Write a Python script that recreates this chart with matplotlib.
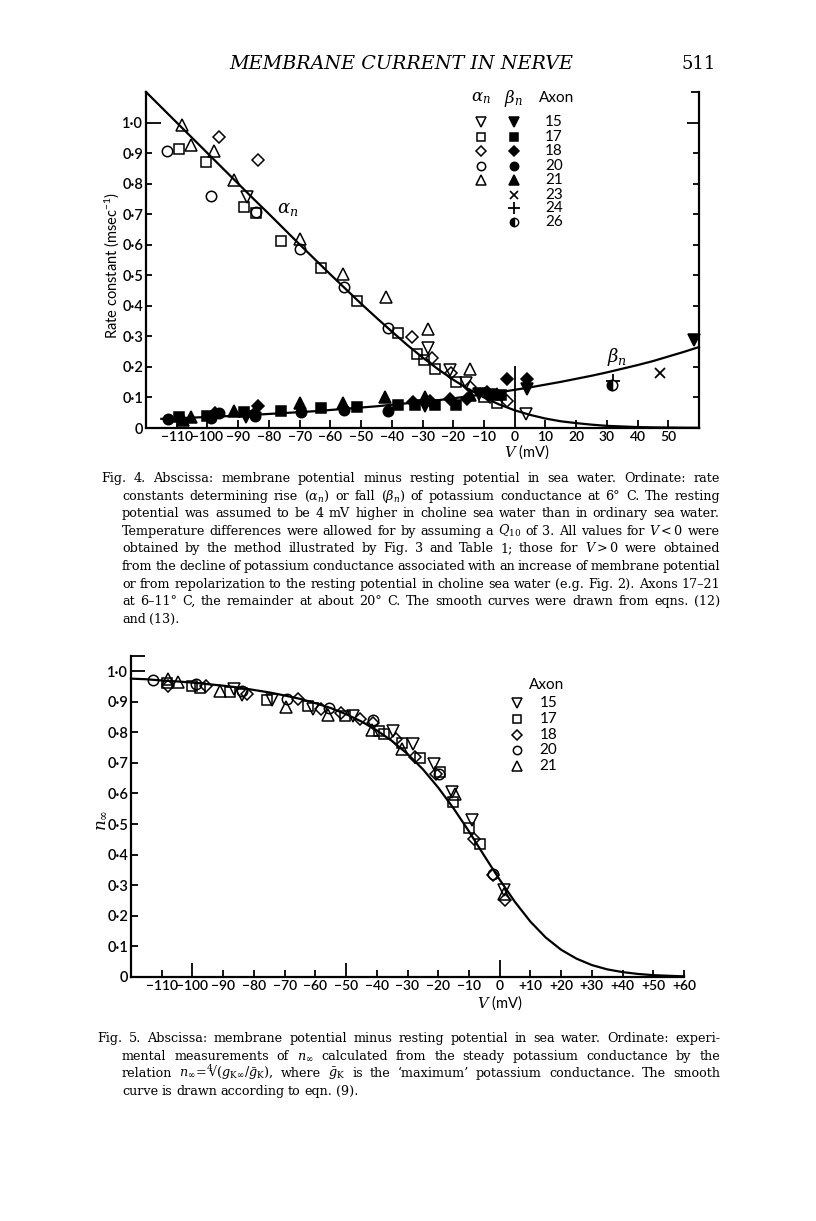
import matplotlib
matplotlib.use('Agg')
import matplotlib.pyplot as plt

plt.rcParams['font.family'] = ['Lato', 'DejaVu Sans']
plt.rcParams['mathtext.fontset'] = 'dejavuserif'

# smooth curves, every 5 mV from -120 to +60
v_curve = [-120, -115, -110, -105, -100, -95, -90, -85, -80, -75, -70, -65, -60,
           -55, -50, -45, -40, -35, -30, -25, -20, -15, -10, -5, 0, 5, 10, 15,
           20, 25, 30, 35, 40, 45, 50, 55, 60]
alpha_curve = [1.100, 1.050, 1.000, 0.950, 0.900, 0.850, 0.800, 0.750, 0.701, 0.651,
               0.601, 0.552, 0.503, 0.455, 0.407, 0.361, 0.316, 0.272, 0.231, 0.193,
               0.158, 0.127, 0.100, 0.077, 0.058, 0.043, 0.031, 0.022, 0.016, 0.011,
               0.007, 0.005, 0.003, 0.002, 0.0015, 0.001, 0.0006]
beta_curve = [0.028, 0.030, 0.032, 0.034, 0.036, 0.038, 0.041, 0.043, 0.046, 0.049,
              0.052, 0.055, 0.059, 0.063, 0.067, 0.071, 0.076, 0.081, 0.086, 0.091,
              0.097, 0.104, 0.110, 0.117, 0.125, 0.133, 0.142, 0.151, 0.161, 0.171,
              0.182, 0.194, 0.206, 0.219, 0.234, 0.249, 0.265]
ninf_curve = [0.975, 0.973, 0.969, 0.966, 0.962, 0.957, 0.952, 0.946, 0.938, 0.930,
              0.920, 0.909, 0.895, 0.879, 0.859, 0.835, 0.806, 0.771, 0.729, 0.679,
              0.619, 0.551, 0.476, 0.396, 0.318, 0.245, 0.181, 0.129, 0.089, 0.060,
              0.039, 0.025, 0.016, 0.010, 0.006, 0.004, 0.002]

# Fig. 4 alpha_n points (open symbols), by axon
alpha_15 = [(-87.1, 0.756), (-28.2, 0.261), (-20.9, 0.190), (-16.0, 0.147), (3.6, 0.045)]
alpha_17 = [(-109.4, 0.915), (-100.4, 0.872), (-88.2, 0.724), (-84.3, 0.704), (-76.2, 0.613),
            (-63.2, 0.524), (-51.4, 0.417), (-38.1, 0.310), (-31.8, 0.243), (-29.4, 0.223),
            (-25.8, 0.192), (-19.0, 0.152), (-10.0, 0.103), (-5.9, 0.083)]
alpha_18 = [(-96.1, 0.953), (-83.6, 0.879), (-33.4, 0.299), (-26.9, 0.228), (-20.6, 0.179),
            (-14.6, 0.133), (-8.1, 0.100), (-2.4, 0.090)]
alpha_20 = [(-113.3, 0.906), (-98.7, 0.758), (-84.3, 0.707), (-69.9, 0.586), (-55.5, 0.463),
            (-41.3, 0.329)]
alpha_21 = [(-108.4, 0.991), (-105.3, 0.925), (-98.0, 0.908), (-91.4, 0.813), (-69.9, 0.619),
            (-55.8, 0.505), (-41.9, 0.428), (-28.2, 0.324), (-14.4, 0.192)]

# Fig. 4 beta_n points (filled symbols), by axon
beta_15 = [(-87.4, 0.037), (-29.1, 0.072), (-11.5, 0.110), (4.1, 0.127), (58.4, 0.288)]
beta_17 = [(-109.4, 0.037), (-100.2, 0.040), (-88.2, 0.054), (-76.2, 0.057), (-63.2, 0.065),
           (-51.2, 0.068), (-38.1, 0.075), (-32.4, 0.075), (-25.8, 0.075), (-19.0, 0.075),
           (-7.5, 0.110), (-4.5, 0.108)]
beta_18 = [(-97.7, 0.048), (-84.6, 0.050), (-83.6, 0.072), (-33.1, 0.086), (-27.6, 0.087),
           (-20.9, 0.094), (-15.5, 0.094), (-8.9, 0.119), (-2.4, 0.160), (4.1, 0.160)]
beta_20 = [(-113.0, 0.028), (-98.8, 0.032), (-96.1, 0.048), (-84.6, 0.039), (-69.7, 0.054),
           (-55.6, 0.059), (-41.1, 0.055)]
beta_21 = [(-108.0, 0.026), (-105.3, 0.037), (-91.2, 0.057), (-69.9, 0.081), (-55.8, 0.083),
           (-42.2, 0.100), (-29.1, 0.100), (-14.4, 0.108), (-5.9, 0.110)]
beta_23 = [(47.2, 0.179)]
beta_24 = [(32.1, 0.155)]
beta_26 = [(31.7, 0.141)]

# Fig. 5 n_inf points, by axon
ninf_15 = [(-86.5, 0.942), (-83.8, 0.921), (-74.0, 0.906), (-60.8, 0.877), (-47.8, 0.852),
           (-34.8, 0.803), (-28.2, 0.763), (-21.5, 0.697), (-15.4, 0.605), (-8.9, 0.512),
           (1.5, 0.285)]
ninf_17 = [(-108.4, 0.961), (-100.1, 0.951), (-97.7, 0.946), (-87.9, 0.931), (-75.7, 0.904),
           (-62.4, 0.885), (-50.5, 0.852), (-39.4, 0.804), (-37.8, 0.795), (-31.8, 0.765),
           (-25.8, 0.716), (-19.4, 0.670), (-15.2, 0.572), (-10.1, 0.488), (-6.5, 0.436)]
ninf_18 = [(-107.8, 0.950), (-95.5, 0.950), (-82.3, 0.924), (-65.7, 0.910), (-58.3, 0.877),
           (-51.6, 0.864), (-45.6, 0.842), (-41.3, 0.831), (-33.6, 0.779), (-27.7, 0.719),
           (-20.8, 0.662), (-8.4, 0.452), (-2.2, 0.334), (1.8, 0.252)]
ninf_20 = [(-112.9, 0.970), (-98.8, 0.957), (-83.8, 0.935), (-69.3, 0.910), (-55.4, 0.880),
           (-41.3, 0.841), (-19.8, 0.665), (-2.2, 0.338)]
ninf_21 = [(-107.8, 0.975), (-104.8, 0.964), (-91.0, 0.935), (-69.7, 0.882), (-55.9, 0.855),
           (-41.5, 0.806), (-31.8, 0.746), (-14.7, 0.599), (1.3, 0.270)]

axons_fig4 = ['15', '17', '18', '20', '21', '23', '24', '26']
axons_fig5 = ['15', '17', '18', '20', '21']

top_xticks = [-110, -100, -90, -80, -70, -60, -50, -40, -30, -20, -10, 0, 10, 20, 30, 40, 50]
top_xlabels = ['\u2212110', '\u2212100', '\u221290', '\u221280', '\u221270', '\u221260',
               '\u221250', '\u221240', '\u221230', '\u221220', '\u221210', '0',
               '10', '20', '30', '40', '50']
bot_xticks = [-110, -100, -90, -80, -70, -60, -50, -40, -30, -20, -10, 0,
              10, 20, 30, 40, 50, 60]
bot_xlabels = ['\u2212110', '\u2212100', '\u221290', '\u221280', '\u221270', '\u221260',
               '\u221250', '\u221240', '\u221230', '\u221220', '\u221210', '0',
               '+10', '+20', '+30', '+40', '+50', '+60']
yticks = [0, 0.1, 0.2, 0.3, 0.4, 0.5, 0.6, 0.7, 0.8, 0.9, 1.0]
ylabels = ['0', '0\u00b71', '0\u00b72', '0\u00b73', '0\u00b74', '0\u00b75',
           '0\u00b76', '0\u00b77', '0\u00b78', '0\u00b79', '1\u00b70']

cap4 = ['Fig. 4. Abscissa: membrane potential minus resting potential in sea water. Ordinate: rate',
        r'constants determining rise ($\alpha_n$) or fall ($\beta_n$) of potassium conductance at 6° C. The resting',
        'potential was assumed to be 4 mV higher in choline sea water than in ordinary sea water.',
        r'Temperature differences were allowed for by assuming a $Q_{10}$ of 3. All values for $V<0$ were',
        r'obtained by the method illustrated by Fig. 3 and Table 1; those for $V>0$ were obtained',
        'from the decline of potassium conductance associated with an increase of membrane potential',
        'or from repolarization to the resting potential in choline sea water (e.g. Fig. 2). Axons 17–21',
        'at 6–11° C, the remainder at about 20° C. The smooth curves were drawn from eqns. (12)',
        'and (13).']
cap5 = ['Fig. 5. Abscissa: membrane potential minus resting potential in sea water. Ordinate: experi-',
        r'mental measurements of $n_\infty$ calculated from the steady potassium conductance by the',
        r'relation $n_\infty\!=\!{}^4\!\!√(g_{\mathrm{K}\infty}/\bar{g}_{\mathrm{K}})$, where $\bar{g}_{\mathrm{K}}$ is the ‘maximum’ potassium conductance. The smooth',
        'curve is drawn according to eqn. (9).']

W, H = 816, 1221
fig = plt.figure(figsize=(W / 100, H / 100), dpi=100)
renderer = fig.canvas.get_renderer()


def fx(px):
    return px / W


def fy(py):
    return 1 - py / H


def xs(pts):
    return [p[0] for p in pts]


def ys(pts):
    return [p[1] for p in pts]


def word_widths(words, size):
    arts = [fig.text(0, 0, w, fontsize=size, family='DejaVu Serif') for w in words]
    widths = [a.get_window_extent(renderer=renderer).width for a in arts]
    for a in arts:
        a.remove()
    return widths


def caption_size(lines, starts, x1, size=10.6):
    # one common size so that every justified line fits its measure
    best = size
    for line, x0 in zip(lines, starts):
        words = line.split(' ')
        wd = sum(word_widths(words, size)) + size * 0.2 * 100 / 72 * (len(words) - 1)
        best = min(best, size * (x1 - x0) / wd)
    return best


def caption_line(text, x0, x1, y, size, justify=True):
    words = text.split(' ')
    arts = [fig.text(0, fy(y), w, fontsize=size, family='DejaVu Serif',
                     va='baseline', ha='left') for w in words]
    widths = [a.get_window_extent(renderer=renderer).width for a in arts]
    gap = size * 0.28 * 100 / 72
    if justify and len(words) > 1:
        gap = (x1 - x0 - sum(widths)) / (len(words) - 1)
    x = x0
    for a, wd in zip(arts, widths):
        a.set_x(fx(x))
        x += wd + gap


open_kw = dict(ls='none', mfc='none', mec='black', mew=1.1, clip_on=False)
fill_kw = dict(ls='none', mfc='black', mec='black', mew=1.1, clip_on=False)
msizes = {'v': 8, 's': 7, 'D': 6.5, 'o': 7.5, '^': 8}

# ---------------- Fig. 4 ----------------
ax1 = fig.add_axes([fx(146), fy(428), 553 / W, 336 / H])
ax1.set_xlim(-120, 60)
ax1.set_ylim(0, 1.1)
ax1.plot(v_curve, alpha_curve, color='black', lw=1.6, clip_on=False)
vb = [v for v in v_curve if v >= -115]
ax1.plot(vb, beta_curve[len(v_curve) - len(vb):], color='black', lw=1.6, clip_on=False)

for pts, m in [(alpha_15, 'v'), (alpha_17, 's'), (alpha_18, 'D'), (alpha_20, 'o'), (alpha_21, '^')]:
    ax1.plot(xs(pts), ys(pts), marker=m, ms=msizes[m], **open_kw)
for pts, m in [(beta_15, 'v'), (beta_17, 's'), (beta_18, 'D'), (beta_20, 'o'), (beta_21, '^')]:
    ax1.plot(xs(pts), ys(pts), marker=m, ms=msizes[m], **fill_kw)
ax1.plot(xs(beta_23), ys(beta_23), marker='x', ms=7, ls='none', color='black', mew=1.3)
ax1.plot(xs(beta_24), ys(beta_24), marker='+', ms=10, ls='none', color='black', mew=1.3)
ax1.plot(xs(beta_26), ys(beta_26), marker='o', ms=7.5, ls='none', fillstyle='left',
         mfc='black', mfcalt='white', mec='black', mew=1.1)

ax1.text(-74, 0.715, r'$\alpha_n$', fontsize=13, ha='center', va='center')
ax1.text(33.2, 0.234, r'$\beta_n$', fontsize=13, ha='center', va='center')

ax1.spines['top'].set_visible(False)
for s in ['left', 'right', 'bottom']:
    ax1.spines[s].set_linewidth(1.6)
ax1.set_xticks(top_xticks)
ax1.set_xticklabels(top_xlabels)
ax1.set_yticks(yticks + [1.1])
ax1.set_yticklabels(ylabels + [''])
ax1.tick_params(axis='x', direction='in', length=5.5, width=1.3, labelsize=10, pad=2)
ax1.tick_params(axis='y', direction='in', left=True, right=True, length=4.5, width=1.3,
                labelsize=10.5, pad=2)
for lbl in ax1.get_xticklabels() + ax1.get_yticklabels():
    lbl.set_fontweight('semibold')
xt = ax1.xaxis.get_major_ticks()
xt[top_xticks.index(0)].tick1line.set_markersize(45)
yt = ax1.yaxis.get_major_ticks()
yt[10].tick1line.set_markersize(11)
yt[10].tick2line.set_markersize(9)
yt[11].tick1line.set_markersize(0)
yt[11].tick2line.set_markersize(6)

fig.text(fx(112), fy(265), 'Rate constant (msec$^{\\mathregular{-1}}$)', fontsize=10.5,
         rotation=90, ha='center', va='center')
fig.text(fx(527), fy(452), r'$V$ (mV)', fontsize=10.5, ha='center', va='center')

# legend of Fig. 4
ax1.text(0.606, 0.981, r'$\alpha_n$', transform=ax1.transAxes, fontsize=12, ha='center', va='center')
ax1.text(0.665, 0.981, r'$\beta_n$', transform=ax1.transAxes, fontsize=12, ha='center', va='center')
ax1.text(0.742, 0.981, 'Axon', transform=ax1.transAxes, fontsize=11, ha='center', va='center')
rows4 = [0.910, 0.867, 0.824, 0.780, 0.738, 0.693, 0.654, 0.614]
for i, m in enumerate(['v', 's', 'D', 'o', '^']):
    ax1.plot([0.606], [rows4[i]], marker=m, ms=msizes[m] - 1.5, transform=ax1.transAxes, **open_kw)
    ax1.plot([0.665], [rows4[i]], marker=m, ms=msizes[m] - 1.5, transform=ax1.transAxes, **fill_kw)
ax1.plot([0.665], [rows4[5]], marker='x', ms=5.5, color='black', mew=1.2,
         transform=ax1.transAxes, clip_on=False)
ax1.plot([0.665], [rows4[6]], marker='+', ms=9, color='black', mew=1.3,
         transform=ax1.transAxes, clip_on=False)
ax1.plot([0.665], [rows4[7]], marker='o', ms=6, fillstyle='left', mfc='black',
         mfcalt='white', mec='black', transform=ax1.transAxes, clip_on=False)
for i, a in enumerate(axons_fig4):
    ax1.text(0.738, rows4[i], a, transform=ax1.transAxes, fontsize=11, ha='center', va='center')

# ---------------- Fig. 5 ----------------
ax2 = fig.add_axes([fx(131), fy(977), 553 / W, (977 - 655.7) / H])
ax2.set_xlim(-120, 60)
ax2.set_ylim(0, 1.05)
ax2.plot(v_curve, ninf_curve, color='black', lw=1.6, clip_on=False)
for pts, m in [(ninf_15, 'v'), (ninf_17, 's'), (ninf_18, 'D'), (ninf_20, 'o'), (ninf_21, '^')]:
    ax2.plot(xs(pts), ys(pts), marker=m, ms=msizes[m], **open_kw)

ax2.spines['top'].set_visible(False)
ax2.spines['right'].set_visible(False)
for s in ['left', 'bottom']:
    ax2.spines[s].set_linewidth(1.6)
ax2.set_xticks(bot_xticks)
ax2.set_xticklabels(bot_xlabels)
ax2.set_yticks(yticks + [1.05])
ax2.set_yticklabels(ylabels + [''])
ax2.tick_params(axis='x', direction='in', length=5, width=1.3, labelsize=10, pad=2)
ax2.tick_params(axis='y', direction='in', length=5, width=1.3, labelsize=10.5, pad=2)
for lbl in ax2.get_xticklabels() + ax2.get_yticklabels():
    lbl.set_fontweight('semibold')
xt2 = ax2.xaxis.get_major_ticks()
xt2[bot_xticks.index(-100)].tick1line.set_markersize(10)
xt2[bot_xticks.index(-50)].tick1line.set_markersize(10)
xt2[bot_xticks.index(0)].tick1line.set_markersize(12.5)
yt2 = ax2.yaxis.get_major_ticks()
yt2[10].tick1line.set_markersize(10)
yt2[11].tick1line.set_markersize(10)

fig.text(fx(101), fy(820), r'$n_\infty$', fontsize=12, rotation=90, ha='center', va='center')
fig.text(fx(500), fy(1003), r'$V$ (mV)', fontsize=10.5, ha='center', va='center')

ax2.text(0.752, 0.909, 'Axon', transform=ax2.transAxes, fontsize=11, ha='center', va='center')
rows5 = [0.852, 0.803, 0.753, 0.707, 0.657]
for i, m in enumerate(['v', 's', 'D', 'o', '^']):
    ax2.plot([0.6975], [rows5[i]], marker=m, ms=msizes[m] - 1.5, transform=ax2.transAxes, **open_kw)
    ax2.text(0.7546, rows5[i], axons_fig5[i], transform=ax2.transAxes, fontsize=11,
             ha='center', va='center')

# ---------------- page text ----------------
fig.text(fx(401), fy(64), 'MEMBRANE CURRENT IN NERVE', family='DejaVu Serif', style='italic',
         fontsize=13.8, ha='center', va='center')
fig.text(fx(716), fy(64), '511', family='DejaVu Serif', fontsize=13, ha='right', va='center')

starts4 = [101] + [122] * (len(cap4) - 1)
starts5 = [97] + [122] * (len(cap5) - 1)
csize = min(caption_size(cap4[:-1], starts4[:-1], 720),
            caption_size(cap5[:-1], starts5[:-1], 720))
for i, line in enumerate(cap4):
    caption_line(line, starts4[i], 720, 482 + 17.6 * i, csize, justify=(i < len(cap4) - 1))
for i, line in enumerate(cap5):
    caption_line(line, starts5[i], 720, 1042 + 17.6 * i, csize, justify=(i < len(cap5) - 1))

fig.savefig('out.png', dpi=100)
